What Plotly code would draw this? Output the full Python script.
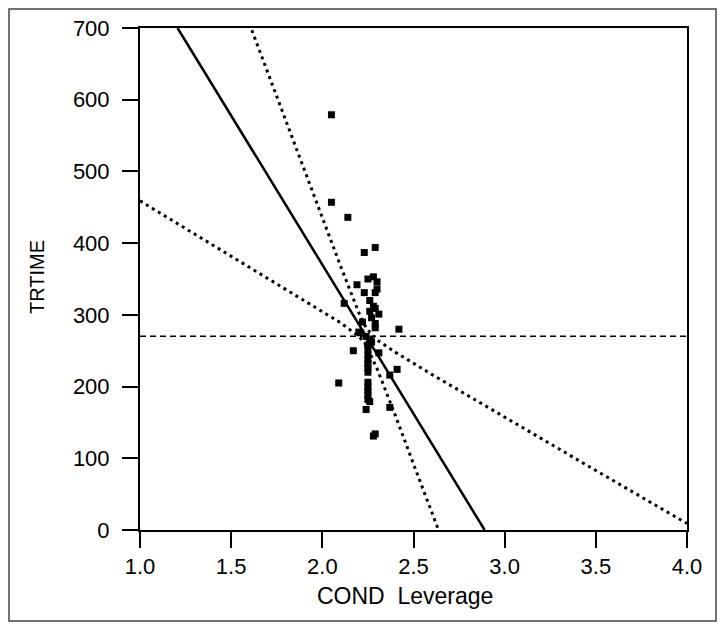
import plotly.graph_objects as go

# ---- data ----
pts_x = [2.05, 2.05, 2.14, 2.23, 2.29, 2.25, 2.28, 2.30, 2.19, 2.23, 2.30, 2.29, 2.26,
         2.12, 2.29, 2.31, 2.29, 2.29, 2.42, 2.21, 2.26, 2.25, 2.17, 2.25, 2.31, 2.25,
         2.25, 2.25, 2.25, 2.25, 2.41, 2.37, 2.25, 2.25, 2.25, 2.25, 2.25, 2.09, 2.26,
         2.24, 2.29, 2.28, 2.37, 2.20, 2.27, 2.26, 2.28, 2.22, 2.24, 2.27]
pts_y = [579, 457, 436, 387, 394, 350, 353, 346, 342, 331, 336, 331, 320,
         316, 309, 301, 288, 282, 280, 275, 265, 258, 250, 252, 247, 244,
         238, 232, 226, 220, 224, 216, 206, 200, 194, 188, 182, 205, 179,
         168, 134, 131, 171, 276, 296, 305, 312, 290, 270, 262]

fit_x = [1.206, 2.89]
fit_y = [700, 0]

mean_x = [1.0, 4.0]
mean_y = [270, 270]

upper_x = [1.60, 1.8, 2.0, 2.1, 2.2, 2.24, 2.3, 2.4, 2.6, 3.0, 3.5, 4.0]
upper_y = [706, 570, 435, 368, 303, 282, 265, 248, 217, 157, 83, 9]

lower_x = [1.0, 1.5, 2.0, 2.1, 2.2, 2.24, 2.3, 2.4, 2.5, 2.6, 2.64]
lower_y = [459, 382, 305, 289, 270, 258, 225, 160, 92, 24, -2]

x_ticks = [1.0, 1.5, 2.0, 2.5, 3.0, 3.5, 4.0]
x_ticktext = ["1.0", "1.5", "2.0", "2.5", "3.0", "3.5", "4.0"]
y_ticks = [0, 100, 200, 300, 400, 500, 600, 700]
y_ticktext = ["0", "100", "200", "300", "400", "500", "600", "700"]

x_title = "COND  Leverage"
y_title = "TRTIME"

# ---- figure ----
FONT = "Liberation Sans, Arial, sans-serif"
fig = go.Figure()

fig.add_trace(go.Scatter(x=mean_x, y=mean_y, mode="lines",
                         line=dict(color="black", width=1.5, dash="6px,4px"),
                         showlegend=False, hoverinfo="skip"))
fig.add_trace(go.Scatter(x=upper_x, y=upper_y, mode="lines",
                         line=dict(color="black", width=3, dash="3px,4px"),
                         showlegend=False, hoverinfo="skip"))
fig.add_trace(go.Scatter(x=lower_x, y=lower_y, mode="lines",
                         line=dict(color="black", width=3, dash="3px,4px"),
                         showlegend=False, hoverinfo="skip"))
fig.add_trace(go.Scatter(x=fit_x, y=fit_y, mode="lines",
                         line=dict(color="black", width=2.5),
                         showlegend=False, hoverinfo="skip"))
fig.add_trace(go.Scatter(x=pts_x, y=pts_y, mode="markers",
                         marker=dict(symbol="square", size=7, color="black",
                                     line=dict(width=0)),
                         showlegend=False))

# the page body adds an 8px offset; the figure is sized to fit the window
W, H = 709, 614
L, R, T, B = 132, 30, 20, 92
pw, ph = W - L - R, H - T - B
OX, OY = 8, 8  # screen offset

fig.update_layout(
    width=W, height=H,
    margin=dict(l=L, r=R, t=T, b=B, pad=0),
    paper_bgcolor="white", plot_bgcolor="white",
    font=dict(family=FONT, color="black"),
    showlegend=False,
    xaxis=dict(range=[1.0, 4.0], tickmode="array", tickvals=x_ticks, ticktext=x_ticktext,
               showgrid=False, zeroline=False,
               showline=True, linecolor="black", linewidth=2, mirror=True,
               ticks="outside", ticklen=16, tickwidth=2, tickcolor="black",
               tickfont=dict(family=FONT, size=22, color="black"), ticklabelstandoff=0,
               automargin=False),
    yaxis=dict(range=[0, 700], tickmode="array", tickvals=y_ticks, ticktext=y_ticktext,
               showgrid=False, zeroline=False,
               showline=True, linecolor="black", linewidth=2, mirror=True,
               ticks="outside", ticklen=16, tickwidth=2, tickcolor="black",
               tickfont=dict(family=FONT, size=22, color="black"), ticklabelstandoff=8,
               automargin=False),
)

def px_x(sx):
    return (sx - OX - L) / pw

def px_y(sy):
    return (H - B - (sy - OY)) / ph

fig.add_annotation(text=x_title, xref="paper", yref="paper",
                   x=px_x(405), y=px_y(596),
                   showarrow=False, font=dict(family=FONT, size=23),
                   xanchor="center", yanchor="middle")
fig.add_annotation(text=y_title, xref="paper", yref="paper",
                   x=px_x(37), y=px_y(277),
                   showarrow=False, font=dict(family=FONT, size=20), textangle=-90,
                   xanchor="center", yanchor="middle")

# outer frame of the figure (as close to the window edge as the page allows)
fig.add_shape(type="rect", xref="paper", yref="paper",
              x0=px_x(9), x1=px_x(716),
              y0=px_y(621), y1=px_y(9),
              line=dict(color="#444444", width=1.5))

fig.write_html("out.html")
